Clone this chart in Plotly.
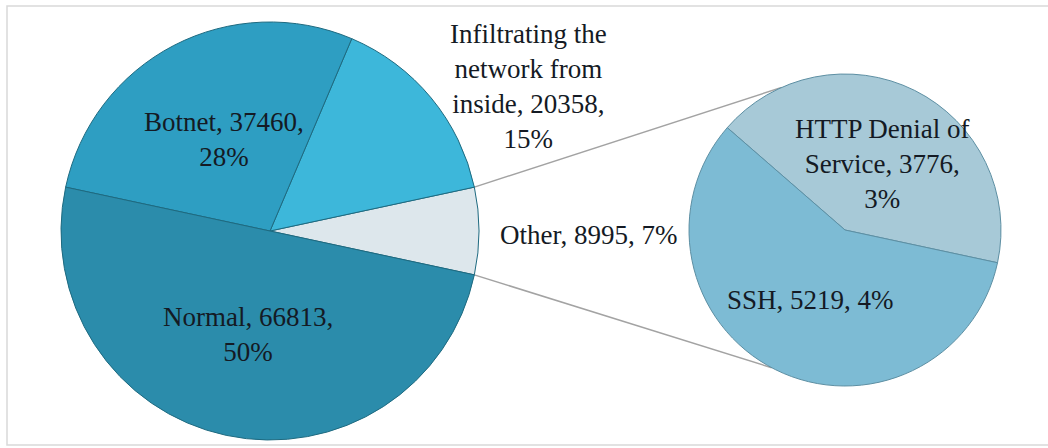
import math
import plotly.graph_objects as go

# ---- data ----
main_labels = ["Other", "Infiltrating the network from inside", "Botnet", "Normal"]
main_values = [8995, 20358, 37460, 66813]
sub_labels = ["HTTP Denial of Service", "SSH"]
sub_values = [3776, 5219]

W, H = 1048, 448
total = sum(main_values)
sub_total = sum(sub_values)

main_colors = ["#dde7ec", "#3db7da", "#2e9ec2", "#2b8cab"]
sub_colors = ["#a7c9d7", "#7dbbd4"]

# geometry (pixels)
mcx, mcy, mr = 270, 231, 209
scx, scy, sr = 845, 230, 156

def px_dom(cx, cy, r):
    return dict(x=[(cx - r) / W, (cx + r) / W], y=[(H - cy - r) / H, (H - cy + r) / H])

half_deg = 180 * main_values[0] / total
rot_main = 90 - half_deg
rot_sub = 90 + half_deg - 360 * sub_values[0] / sub_total

fig = go.Figure()
fig.add_trace(go.Pie(
    labels=main_labels, values=main_values, sort=False, direction="counterclockwise",
    rotation=rot_main, domain=px_dom(mcx, mcy, mr), textinfo="none",
    marker=dict(colors=main_colors, line=dict(color="#1e6a80", width=1)),
    showlegend=False,
))
fig.add_trace(go.Pie(
    labels=sub_labels, values=sub_values, sort=False, direction="counterclockwise",
    rotation=rot_sub, domain=px_dom(scx, scy, sr), textinfo="none",
    marker=dict(colors=sub_colors, line=dict(color="#5d8fa3", width=1)),
    showlegend=False,
))

def P(x, y):
    return x / W, 1 - y / H

# connector lines from "Other" slice edges to the secondary pie
half = math.radians(half_deg)
starts = [(mcx + mr * math.cos(half), mcy - mr * math.sin(half)),
          (mcx + mr * math.cos(half), mcy + mr * math.sin(half))]
ends = [(scx + sr * math.cos(math.radians(114)), scy - sr * math.sin(math.radians(114))),
        (scx + sr * math.cos(math.radians(242)), scy - sr * math.sin(math.radians(242)))]
shapes = []
for (x0, y0), (x1, y1) in zip(starts, ends):
    a0, b0 = P(x0, y0)
    a1, b1 = P(x1, y1)
    shapes.append(dict(type="line", xref="paper", yref="paper", x0=a0, y0=b0, x1=a1, y1=b1,
                       line=dict(color="#a3a3a3", width=1.5), layer="below"))
# chart border
bx0, by0 = P(7, 6)
bx1, by1 = P(1052, 445)
shapes.append(dict(type="rect", xref="paper", yref="paper", x0=bx0, y0=by1, x1=bx1, y1=by0,
                   line=dict(color="#d9d9d9", width=1.5), layer="below"))

def pct(v):
    return f"{round(100 * v / total)}%"

texts = {
    "Botnet": (f"Botnet, {main_values[2]},<br>{pct(main_values[2])}", 224, 139),
    "Infil": (f"Infiltrating the<br>network from<br>inside, {main_values[1]},<br>{pct(main_values[1])}", 528, 86),
    "Normal": (f"Normal, {main_values[3]},<br>{pct(main_values[3])}", 248, 334),
    "Other": (f"Other, {main_values[0]}, {pct(main_values[0])}", 588, 235),
    "HTTP": (f"HTTP Denial of<br>Service, {sub_values[0]},<br>{pct(sub_values[0])}", 882, 164),
    "SSH": (f"SSH, {sub_values[1]}, {pct(sub_values[1])}", 810, 300),
}
annotations = []
for key, (t, x, y) in texts.items():
    ax, ay = P(x, y)
    annotations.append(dict(text=t, x=ax, y=ay, xref="paper", yref="paper", showarrow=False,
                            xanchor="center", yanchor="middle", align="center",
                            font=dict(family="Liberation Serif", size=27, color="#141a24")))

fig.update_layout(
    width=W, height=H, margin=dict(l=0, r=0, t=0, b=0),
    paper_bgcolor="white", plot_bgcolor="white",
    shapes=shapes, annotations=annotations, showlegend=False,
)
fig.write_html("out.html")
